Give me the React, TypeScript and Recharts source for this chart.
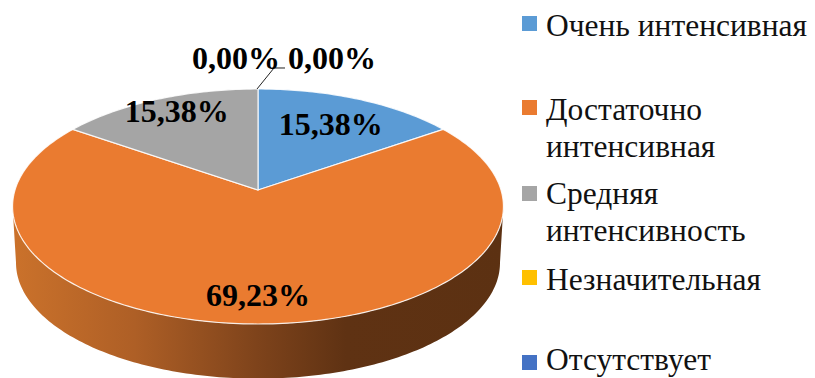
import { Legend, Pie, PieChart } from 'recharts';

const categories = ['Очень интенсивная', 'Достаточно интенсивная', 'Средняя интенсивность', 'Незначительная', 'Отсутствует'];
const shares = [15.38, 69.23, 15.38, 0, 0];
const colors = ['#5B9BD5', '#EA7B30', '#A5A5A5', '#FFC000', '#4472C4'];

// text centre of each label, as a fraction of the radius along the slice's middle
const labelRadius = [0.7, 0.81, 0.8, 1, 1];
const labelShift = [
  [0, 0],
  [0, 0],
  [1, -5],
  [-22, -31],
  [74, -31],
];
// top of each legend entry, of its square, and how its name breaks
const legendTops = [7, 91, 175, 261, 341];
const markerTops = [16, 100, 186, 270, 355];
const legendLines = [['Очень интенсивная'], ['Достаточно', 'интенсивная'], ['Средняя', 'интенсивность'], ['Незначительная'], ['Отсутствует']];

const rows = categories.map((name, i) => ({ name, value: shares[i], fill: colors[i] }));

const TILT = 0.1404; // far edge looks smaller than the near one
const FLATTEN = 0.474;
const DROP = 56.5;
const BASE_SCALE = 0.986;
const RAD = Math.PI / 180;

// angle in degrees clockwise from the top, r as a fraction of the radius
function project(cx: number, cy: number, R: number, theta: number, r = 1, scale = 1, drop = 0) {
  const w = 1 + TILT * r * Math.cos(theta * RAD);
  return {
    x: cx + (R * scale * r * Math.sin(theta * RAD)) / w,
    y: cy + drop - (R * FLATTEN * scale * r * Math.cos(theta * RAD)) / w,
  };
}

function arcPoints(from: number, to: number, at: (t: number) => { x: number; y: number }) {
  const steps = Math.max(2, Math.ceil(Math.abs(to - from)));
  const pts: string[] = [];
  for (let i = 0; i <= steps; i++) {
    const p = at(from + ((to - from) * i) / steps);
    pts.push(`${p.x.toFixed(2)} ${p.y.toFixed(2)}`);
  }
  return pts;
}

function SliceShape(props: any) {
  const { cx, cy, outerRadius, startAngle, endAngle, fill } = props;
  const from = 90 - startAngle;
  const to = 90 - endAngle;
  if (Math.abs(to - from) < 0.01) return <g />;
  const top = arcPoints(from, to, (t) => project(cx, cy, outerRadius, t));
  // only the front of the rim can be seen
  const wallFrom = Math.max(from, 98);
  const wallTo = Math.min(to, 262);
  let wall = null;
  if (wallTo > wallFrom) {
    const upper = arcPoints(wallFrom, wallTo, (t) => project(cx, cy, outerRadius, t));
    const lower = arcPoints(wallTo, wallFrom, (t) => project(cx, cy, outerRadius, t, 1, BASE_SCALE, DROP));
    wall = <path d={`M${upper.join('L')}L${lower.join('L')}Z`} fill="url(#rimShade)" />;
  }
  return (
    <g>
      {wall}
      <path d={`M${cx} ${cy}L${top.join('L')}Z`} fill={fill} stroke="#fff" strokeWidth={1.2} strokeOpacity={0.85} />
    </g>
  );
}

function SliceLabel(props: any) {
  const { cx, cy, outerRadius, midAngle, index, value } = props;
  const p = project(cx, cy, outerRadius, 90 - midAngle, labelRadius[index]);
  const [dx, dy] = labelShift[index];
  const edge = project(cx, cy, outerRadius, 0);
  return (
    <g>
      {index === 3 && (
        <polyline points={`${edge.x - 1} ${edge.y} ${edge.x + 16} ${edge.y - 21} ${edge.x + 27} ${edge.y - 21}`} fill="none" stroke="#222" strokeWidth={1} />
      )}
      <text
        x={p.x + dx}
        y={p.y + dy}
        textAnchor="middle"
        dominantBaseline="central"
        fontFamily="'Liberation Serif'"
        fontWeight="bold"
        fontSize={32}
        fill="#000"
      >
        {`${Number(value).toFixed(2).replace('.', ',')}%`}
      </text>
    </g>
  );
}

function SideLegend({ payload }: any) {
  return (
    <div style={{ position: 'relative', width: 815, height: 378, fontFamily: "'Liberation Serif'", fontSize: 31.5, lineHeight: '37px', color: '#111' }}>
      {(payload ?? []).map((entry: any, i: number) => (
        <div key={entry.value}>
          <span style={{ position: 'absolute', left: 522, top: markerTops[i], width: 15, height: 15, background: entry.color }} />
          <div style={{ position: 'absolute', left: 546, top: legendTops[i], whiteSpace: 'nowrap' }}>
            {legendLines[i].map((line) => (
              <div key={line}>{line}</div>
            ))}
          </div>
        </div>
      ))}
    </div>
  );
}

export default function App() {
  return (
    <div style={{ position: 'absolute', left: 0, top: 0, width: 815, height: 378, background: '#fff', overflow: 'hidden' }}>
      <PieChart width={815} height={378} margin={{ top: 0, right: 0, bottom: 0, left: 0 }}>
        <defs>
          <linearGradient id="rimShade" gradientUnits="userSpaceOnUse" x1={12} y1={0} x2={503} y2={0}>
            <stop offset="0" stopColor="#CB722B" />
            <stop offset="0.25" stopColor="#AE5F26" />
            <stop offset="0.5" stopColor="#7E431B" />
            <stop offset="0.68" stopColor="#5F3213" />
            <stop offset="1" stopColor="#5C3112" />
          </linearGradient>
        </defs>
        <Pie
          data={rows}
          dataKey="value"
          nameKey="name"
          cx={258}
          cy={190}
          outerRadius={243}
          startAngle={90}
          endAngle={-270}
          stroke="none"
          shape={SliceShape}
          label={SliceLabel}
          labelLine={false}
          isAnimationActive={false}
        />
        <Legend content={SideLegend} itemSorter={null} wrapperStyle={{ left: 0, top: 0, width: 815, height: 378 }} />
      </PieChart>
    </div>
  );
}
